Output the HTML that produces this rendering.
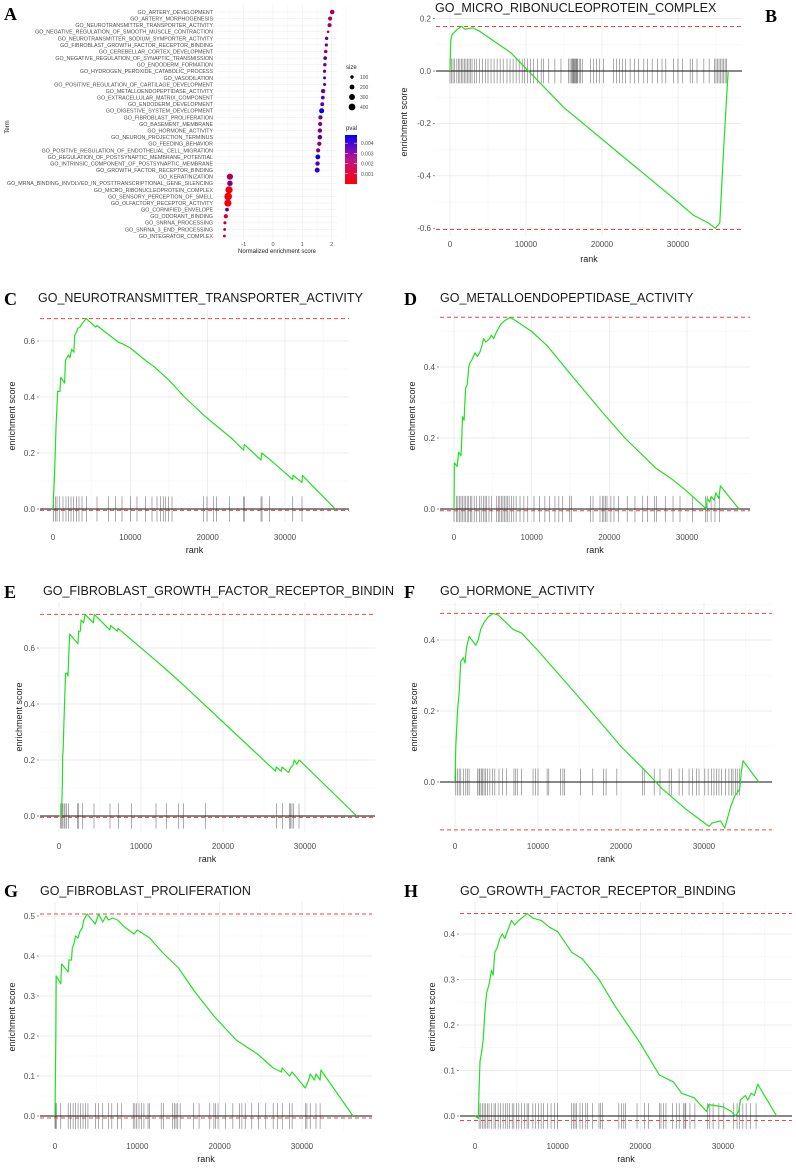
<!DOCTYPE html>
<html><head><meta charset="utf-8"><style>
html,body{margin:0;padding:0;background:#fff;}
svg{display:block;font-family:"Liberation Sans",sans-serif;}
</style></head><body>
<svg id="fig" width="796" height="1171" viewBox="0 0 796 1171" xmlns="http://www.w3.org/2000/svg"></svg>
<script>
// ---------- Panel A data ----------
const aTerms = ["GO_ARTERY_DEVELOPMENT","GO_ARTERY_MORPHOGENESIS","GO_NEUROTRANSMITTER_TRANSPORTER_ACTIVITY","GO_NEGATIVE_REGULATION_OF_SMOOTH_MUSCLE_CONTRACTION","GO_NEUROTRANSMITTER_SODIUM_SYMPORTER_ACTIVITY","GO_FIBROBLAST_GROWTH_FACTOR_RECEPTOR_BINDING","GO_CEREBELLAR_CORTEX_DEVELOPMENT","GO_NEGATIVE_REGULATION_OF_SYNAPTIC_TRANSMISSION","GO_ENDODERM_FORMATION","GO_HYDROGEN_PEROXIDE_CATABOLIC_PROCESS","GO_VASODILATION","GO_POSITIVE_REGULATION_OF_CARTILAGE_DEVELOPMENT","GO_METALLOENDOPEPTIDASE_ACTIVITY","GO_EXTRACELLULAR_MATRIX_COMPONENT","GO_ENDODERM_DEVELOPMENT","GO_DIGESTIVE_SYSTEM_DEVELOPMENT","GO_FIBROBLAST_PROLIFERATION","GO_BASEMENT_MEMBRANE","GO_HORMONE_ACTIVITY","GO_NEURON_PROJECTION_TERMINUS","GO_FEEDING_BEHAVIOR","GO_POSITIVE_REGULATION_OF_ENDOTHELIAL_CELL_MIGRATION","GO_REGULATION_OF_POSTSYNAPTIC_MEMBRANE_POTENTIAL","GO_INTRINSIC_COMPONENT_OF_POSTSYNAPTIC_MEMBRANE","GO_GROWTH_FACTOR_RECEPTOR_BINDING","GO_KERATINIZATION","GO_MRNA_BINDING_INVOLVED_IN_POSTTRANSCRIPTIONAL_GENE_SILENCING","GO_MICRO_RIBONUCLEOPROTEIN_COMPLEX","GO_SENSORY_PERCEPTION_OF_SMELL","GO_OLFACTORY_RECEPTOR_ACTIVITY","GO_CORNIFIED_ENVELOPE","GO_ODORANT_BINDING","GO_SNRNA_PROCESSING","GO_SNRNA_3_END_PROCESSING","GO_INTEGRATOR_COMPLEX"];
const aNes = [2.02,1.95,1.93,1.88,1.83,1.82,1.80,1.78,1.77,1.76,1.76,1.76,1.71,1.70,1.68,1.66,1.62,1.61,1.60,1.60,1.58,1.54,1.53,1.52,1.51,-1.47,-1.47,-1.50,-1.53,-1.54,-1.57,-1.61,-1.64,-1.65,-1.66];
const aSize = [180,150,140,60,100,90,110,120,100,90,80,80,170,120,130,220,160,150,170,180,160,150,200,170,210,330,260,450,500,450,120,150,80,70,70];
const aPval = [0.0015,0.0015,0.0018,0.0015,0.0025,0.0028,0.002,0.003,0.003,0.003,0.0035,0.0035,0.0025,0.003,0.003,0.0047,0.0025,0.0022,0.0025,0.003,0.002,0.0022,0.0047,0.003,0.004,0.0015,0.0025,0.0002,0.0002,0.0002,0.003,0.0008,0.0012,0.0012,0.0012];
const aXTicks = [-1,0,1,2];
const aSizeLegend = [100,200,300,400];
const aPvalLegend = [0.004,0.003,0.002,0.001];

// ---------- GSEA data ----------
const curveB = [[0,0],[100,0.12],[300,0.14],[1000,0.16],[1500,0.17],[2000,0.16],[3000,0.165],[4000,0.15],[6000,0.11],[8000,0.07],[10000,0.01],[15000,-0.14],[20000,-0.26],[25000,-0.38],[30000,-0.5],[32000,-0.55],[34000,-0.58],[34900,-0.6],[35500,-0.58],[36000,-0.3],[36500,-0.05],[36600,0]];
const hitsB = [0,200,400,600,900,1100,1300,1500,1700,1900,2100,2300,2500,2700,2900,3200,3500,3900,4300,4700,5000,5400,5800,6200,6600,7000,7500,7900,8300,8700,9100,9500,9800,10200,10600,11000,11500,12000,12300,13000,13800,14600,15600,15800,16000,16100,16200,16300,16400,16500,16600,16700,16800,17000,17200,17400,18500,18900,19300,19700,20200,21500,21900,22300,22700,23100,23700,24300,24800,25500,26000,26600,27300,27900,28400,29400,30000,30600,31600,31900,32500,33400,34100,34800,35000,35200,35400,35600,35800,36000,36200,36400];
const curveC = [[0,0],[200,0.12],[300,0.21],[400,0.3],[500,0.36],[600,0.42],[900,0.42],[1000,0.47],[1500,0.45],[1600,0.53],[2000,0.55],[2200,0.54],[2400,0.57],[2700,0.56],[2800,0.62],[3000,0.63],[3200,0.645],[3500,0.65],[3700,0.66],[4000,0.67],[4300,0.68],[5500,0.65],[5700,0.655],[7300,0.62],[8500,0.595],[9000,0.59],[10000,0.575],[12000,0.53],[13000,0.51],[15000,0.46],[17000,0.40],[19500,0.335],[21000,0.30],[23000,0.255],[24650,0.21],[24750,0.23],[26900,0.175],[27000,0.20],[27900,0.18],[31000,0.105],[31050,0.12],[32200,0.095],[32250,0.12],[36500,0]];
const hitsC = [90,300,520,860,1290,1680,2030,2330,2670,3020,3360,3750,4310,5690,7200,8060,8920,10000,10860,11940,12800,13450,13880,14310,14530,14960,15390,19480,19910,20780,21120,22840,24660,24740,26900,27030,28020,31000,32200];
const curveD = [[0,0],[50,0.13],[400,0.12],[600,0.16],[900,0.15],[1000,0.2],[1100,0.26],[1300,0.25],[1400,0.3],[1500,0.34],[1700,0.35],[1900,0.4],[2000,0.41],[2300,0.42],[2500,0.43],[2700,0.44],[3000,0.43],[3300,0.44],[3600,0.46],[3800,0.48],[4100,0.47],[4600,0.48],[4800,0.49],[5100,0.48],[5500,0.5],[6000,0.52],[6500,0.53],[7200,0.54],[8000,0.53],[9000,0.515],[10000,0.5],[12000,0.46],[15000,0.38],[19000,0.275],[22000,0.2],[26000,0.115],[28000,0.085],[30000,0.05],[32500,0],[32600,0.03],[32900,0.02],[33100,0.035],[33500,0.025],[33700,0.045],[34100,0.03],[34300,0.065],[36700,0]];
const hitsD = [0,300,500,700,900,1100,1300,1500,1700,1900,2100,2300,2600,2900,3300,3500,3800,4000,4200,4500,4800,5500,5700,5900,6100,6300,6500,6700,6900,7100,7400,7700,8000,8500,9000,9500,10300,11000,11700,12300,13000,13500,14000,14900,15100,17600,17900,18800,19100,19300,19500,19700,20200,20600,21200,22300,23300,24300,24900,25800,26100,27200,28200,29100,30700,32400,32600,33100,33600,34200];
const curveE = [[0,0],[300,0],[400,0.11],[450,0.22],[500,0.23],[600,0.33],[700,0.42],[800,0.51],[1000,0.51],[1100,0.5],[1200,0.58],[1300,0.65],[2300,0.615],[2400,0.66],[2600,0.66],[2700,0.70],[3000,0.69],[3200,0.72],[4200,0.69],[4300,0.72],[6200,0.665],[6300,0.68],[7100,0.66],[7200,0.67],[8800,0.63],[11800,0.555],[13000,0.525],[15100,0.47],[26400,0.16],[26500,0.175],[27100,0.16],[27200,0.175],[28000,0.155],[28200,0.17],[28500,0.18],[28700,0.2],[29000,0.185],[29300,0.2],[36300,0]];
const hitsE = [200,330,450,610,730,930,1140,2240,2400,2890,4270,6220,7240,8860,11830,13130,14550,15160,17890,26540,27280,28090,28250,28410,28580,29270];
const curveF = [[0,0],[100,0.1],[300,0.2],[500,0.25],[700,0.34],[1000,0.35],[1200,0.335],[1400,0.38],[1700,0.41],[2500,0.385],[2800,0.4],[3100,0.43],[3500,0.45],[4000,0.465],[4600,0.475],[5200,0.47],[7000,0.43],[8000,0.42],[10000,0.37],[13000,0.29],[16000,0.21],[20000,0.1],[23000,0.03],[25000,-0.02],[28000,-0.08],[30600,-0.125],[31000,-0.115],[32000,-0.11],[32500,-0.13],[33200,-0.07],[33700,-0.04],[34300,-0.02],[34500,0.03],[34700,0.06],[36600,0]];
const hitsF = [100,300,500,700,1000,1300,1500,1700,2700,2900,3000,3200,3300,3500,3700,3900,4200,4500,4800,5300,5700,6200,7100,7300,7500,8000,9400,9700,10000,11100,11300,12700,13000,13200,15100,16600,17900,18200,19500,22600,22800,24000,24700,25800,26100,27000,27400,28200,28600,29100,29400,30100,30500,30900,31200,31500,31800,32100,32600,33000,33300,33500,33800,34000,34300];
const curveG = [[0,0],[100,0.19],[150,0.35],[700,0.33],[800,0.38],[1600,0.36],[1700,0.39],[2000,0.39],[2100,0.42],[2300,0.43],[2500,0.45],[2800,0.445],[3000,0.46],[3300,0.47],[3500,0.49],[3900,0.505],[4900,0.48],[5300,0.505],[5800,0.485],[6200,0.5],[6500,0.49],[7000,0.495],[7600,0.49],[8300,0.475],[9600,0.455],[10000,0.465],[11500,0.445],[13000,0.41],[15000,0.37],[17000,0.31],[19300,0.25],[22000,0.19],[24600,0.155],[26500,0.12],[27500,0.11],[27600,0.12],[28500,0.10],[28800,0.11],[30400,0.07],[30800,0.09],[31000,0.105],[31500,0.09],[31700,0.105],[32200,0.09],[32300,0.115],[36200,0]];
const hitsG = [0,100,150,700,1600,1900,2200,2500,2800,3100,3400,3700,4000,4900,5300,5800,6500,6900,7600,8100,9500,9700,9900,10200,10500,10800,11300,11500,12900,13200,14300,14500,14700,14900,15200,16800,17500,18800,19300,19500,19800,20700,21600,22400,22700,23100,23900,24700,25600,26500,27000,27600,28500,28800,30400,30600,31000,31700,32200];
const curveH = [[0,0],[400,-0.005],[500,0.06],[600,0.12],[800,0.14],[1000,0.17],[1200,0.23],[1400,0.27],[1700,0.29],[2000,0.32],[2200,0.31],[2400,0.36],[2700,0.37],[3000,0.39],[3300,0.40],[3600,0.39],[4000,0.41],[4400,0.43],[4800,0.42],[5300,0.43],[6000,0.44],[6300,0.445],[7000,0.435],[8000,0.43],[9000,0.415],[10000,0.405],[11700,0.36],[13000,0.345],[15000,0.3],[17000,0.24],[20000,0.16],[22300,0.09],[24000,0.075],[25000,0.05],[26500,0.04],[28000,0.01],[28300,0.025],[30000,0.02],[31000,0.01],[31500,0],[31900,0.01],[32100,0.035],[32700,0.045],[33000,0.035],[33400,0.05],[33800,0.045],[34200,0.07],[36500,0]];
const hitsH = [500,700,900,1100,1300,1500,1700,2000,2300,2500,2800,3100,3400,3700,3900,4200,4500,4700,5000,5300,5600,6000,6300,6500,7000,7300,7700,8000,8300,8800,9200,9600,10000,11700,11900,12100,12300,12700,13000,13400,13600,14200,15000,15200,15400,17400,17700,18000,18200,19600,20500,21000,22300,22500,22800,23100,23900,24400,24700,25200,25400,25500,26000,26600,28100,28400,28800,29500,30100,31300,31700,32000,32400,32800,33300,34000];
const rankTicks = [0,10000,20000,30000];
const yTicksB = [0.2,0,-0.2,-0.4,-0.6];
const yTicksC = [0,0.2,0.4,0.6];
const yTicksD = [0,0.2,0.4];
const yTicksE = [0,0.2,0.4,0.6];
const yTicksF = [0,0.2,0.4];
const yTicksG = [0,0.1,0.2,0.3,0.4,0.5];
const yTicksH = [0,0.1,0.2,0.3,0.4];
const titles = ["GO_MICRO_RIBONUCLEOPROTEIN_COMPLEX","GO_NEUROTRANSMITTER_TRANSPORTER_ACTIVITY","GO_METALLOENDOPEPTIDASE_ACTIVITY","GO_FIBROBLAST_GROWTH_FACTOR_RECEPTOR_BINDIN","GO_HORMONE_ACTIVITY","GO_FIBROBLAST_PROLIFERATION","GO_GROWTH_FACTOR_RECEPTOR_BINDING"];

const NS = "http://www.w3.org/2000/svg";
const svg = document.getElementById('fig');
function mk(tag, attrs, parent, text){
  const e = document.createElementNS(NS, tag);
  for (const k in attrs) e.setAttribute(k, attrs[k]);
  if (text !== undefined) e.textContent = text;
  (parent || svg).appendChild(e);
  return e;
}
function fmt(v, dec){ return (Math.abs(v) < 1e-9 ? 0 : v).toFixed(dec); }

// ---------- Panel A ----------
(function(){
  const g = mk('g', {});
  
  
  const L = 217, R = 337, T = 4, B = 240, x0 = 273, ux = 29.3, y0 = 12, dy = (236 - 12) / 34;
  const px = v => x0 + v * ux;
  const py = i => y0 + i * dy;
  aXTicks.forEach(t => { mk('line', {x1:px(t),x2:px(t),y1:T,y2:B,stroke:'#ebebeb','stroke-width':0.6}, g); mk('line', {x1:px(t-0.5),x2:px(t-0.5),y1:T,y2:B,stroke:'#f4f4f4','stroke-width':0.4}, g); });
  mk('line', {x1:px(2.5),x2:px(2.5),y1:T,y2:B,stroke:'#f4f4f4','stroke-width':0.4}, g);
  aTerms.forEach((t,i) => {
    mk('line', {x1:L,x2:R,y1:py(i),y2:py(i),stroke:'#ebebeb','stroke-width':0.5}, g);
    const lab = mk('text', {x:L-4,y:py(i)+1.9,'font-size':5.3,fill:'#4d4d4d','text-anchor':'end'}, g, t);
    
    
  });
  const col = p => { const t = Math.min(1, p / 0.0048); return `rgb(${Math.round(255*(1-t))},0,${Math.round(255*t)})`; };
  aTerms.forEach((t,i) => {
    const c = mk('circle', {cx:px(aNes[i]),cy:py(i),r:0.17*Math.sqrt(aSize[i]),fill:col(aPval[i])}, g);
    
    
  });
  aXTicks.forEach(t => mk('text', {x:px(t),y:246,'font-size':5.5,fill:'#4d4d4d','text-anchor':'middle'}, g, String(t)));
  const xt = mk('text', {x:277,y:253,'font-size':6,fill:'#222','text-anchor':'middle'}, g, 'Normalized enrichment score');
  
  
  const yt = mk('text', {x:9,y:127,'font-size':6,fill:'#222','text-anchor':'middle',transform:'rotate(-90 9 127)'}, g, 'Term');
  
  
  // size legend
  const sl = mk('g', {}, g);
  
  
  mk('text', {x:346,y:69,'font-size':6,fill:'#222'}, sl, 'size');
  aSizeLegend.forEach((s,i) => {
    mk('circle', {cx:352,cy:77+i*10,r:0.17*Math.sqrt(s),fill:'#000'}, sl);
    mk('text', {x:360,y:79+i*10,'font-size':5,fill:'#4d4d4d'}, sl, String(s));
  });
  // pval legend
  const pl = mk('g', {}, g);
  
  
  mk('text', {x:346,y:130,'font-size':6,fill:'#222'}, pl, 'pval');
  const defs = mk('defs', {}, pl);
  const lg = mk('linearGradient', {id:'pg',x1:0,y1:1,x2:0,y2:0}, defs);
  mk('stop', {offset:'0%','stop-color':'#ff0000'}, lg);
  mk('stop', {offset:'50%','stop-color':'#c0158a'}, lg);
  mk('stop', {offset:'100%','stop-color':'#0000ff'}, lg);
  mk('rect', {x:345,y:135,width:12,height:49,fill:'url(#pg)'}, pl);
  aPvalLegend.forEach(p => { const y = 184 - p / 0.0048 * 49; mk('text', {x:361,y:y+2,'font-size':5,fill:'#4d4d4d'}, pl, p.toFixed(3)); mk('line',{x1:345,x2:348,y1:y,y2:y,stroke:'#fff','stroke-width':0.5},pl); mk('line',{x1:354,x2:357,y1:y,y2:y,stroke:'#fff','stroke-width':0.5},pl); });
})();

// ---------- GSEA panels ----------
const panels = [
 {id:'b',L:436,R:742,T:8,B:236,x0:450,x30:678,y0:71,ppu:262,hh:0.047,ylab:407,xlab:247,rlab:262,tx:435,ty:12,curve:curveB,hits:hitsB,yt:yTicksB,dec:1,lx:765,ly:22,letter:'B'},
 {id:'c',L:40,R:349,T:310,B:522,x0:53,x30:285,y0:509,ppu:280,hh:0.045,ylab:15,xlab:540,rlab:553,tx:38,ty:302,curve:curveC,hits:hitsC,yt:yTicksC,dec:1,lx:4,ly:305,letter:'C'},
 {id:'d',L:440,R:750,T:310,B:522,x0:454,x30:687,y0:509,ppu:355,hh:0.037,ylab:415,xlab:540,rlab:553,tx:440,ty:302,curve:curveD,hits:hitsD,yt:yTicksD,dec:1,lx:404,ly:305,letter:'D'},
 {id:'e',L:40,R:375,T:602,B:832,x0:59,x30:305,y0:816,ppu:280,hh:0.045,ylab:22,xlab:849,rlab:862,tx:43,ty:595,curve:curveE,hits:hitsE,yt:yTicksE,dec:1,lx:4,ly:598,letter:'E'},
 {id:'f',L:440,R:772,T:602,B:832,x0:455,x30:704,y0:782,ppu:355,hh:0.038,ylab:417,xlab:849,rlab:862,tx:440,ty:595,curve:curveF,hits:hitsF,yt:yTicksF,dec:1,lx:404,ly:598,letter:'F'},
 {id:'g',L:40,R:372,T:902,B:1132,x0:55,x30:302,y0:1116,ppu:400,hh:0.032,ylab:15,xlab:1149,rlab:1162,tx:40,ty:895,curve:curveG,hits:hitsG,yt:yTicksG,dec:1,lx:4,ly:897,letter:'G'},
 {id:'h',L:460,R:792,T:902,B:1132,x0:475,x30:723,y0:1116,ppu:455,hh:0.028,ylab:435,xlab:1149,rlab:1162,tx:460,ty:895,curve:curveH,hits:hitsH,yt:yTicksH,dec:1,lx:404,ly:897,letter:'H'}
];
panels.forEach((c, idx) => {
  const g = mk('g', {});
  
  
  const px = r => c.x0 + r * (c.x30 - c.x0) / 30000;
  const py = v => c.y0 - v * c.ppu;
  const step = c.yt.length > 1 ? Math.abs(c.yt[1] - c.yt[0]) : 0.2;
  // minor grid
  rankTicks.forEach(t => { const xm = px(t + 5000); if (xm < c.R) mk('line', {x1:xm,x2:xm,y1:c.T,y2:c.B,stroke:'#f3f3f3','stroke-width':0.5}, g); });
  c.yt.forEach(t => { const ym = py(t + step/2); if (ym > c.T) mk('line', {x1:c.L,x2:c.R,y1:ym,y2:ym,stroke:'#f3f3f3','stroke-width':0.5}, g); });
  // major grid
  rankTicks.forEach(t => mk('line', {x1:px(t),x2:px(t),y1:c.T,y2:c.B,stroke:'#e6e6e6','stroke-width':0.7}, g));
  c.yt.forEach(t => mk('line', {x1:c.L,x2:c.R,y1:py(t),y2:py(t),stroke:'#e6e6e6','stroke-width':0.7}, g));
  // hits
  c.hits.forEach(h => {
    const l = mk('line', {x1:px(h),x2:px(h),y1:py(c.hh),y2:py(-c.hh),stroke:'#000','stroke-opacity':0.55,'stroke-width':0.6}, g);
    
    
  });
  // zero line
  mk('line', {x1:c.L,x2:c.R,y1:py(0),y2:py(0),stroke:'#111','stroke-width':1}, g);
  // dashed max/min
  let mx = -1e9, mn = 1e9;
  c.curve.forEach(p => { mx = Math.max(mx, p[1]); mn = Math.min(mn, p[1]); });
  [mx, mn - 0.005].forEach(v => {
    const d = mk('line', {x1:c.L,x2:c.R,y1:py(v),y2:py(v),stroke:'#e8474a','stroke-width':1,'stroke-dasharray':'4,3'}, g);
    
    
  });
  // curve
  const pl = mk('polyline', {points:c.curve.map(p => px(p[0]).toFixed(1)+','+py(p[1]).toFixed(1)).join(' '),fill:'none',stroke:'#22e022','stroke-width':1.2,'stroke-linejoin':'round'}, g);
  
  
  // y ticks
  c.yt.forEach(t => {
    mk('line', {x1:c.L-3,x2:c.L-1,y1:py(t),y2:py(t),stroke:'#4d4d4d','stroke-width':0.6}, g);
    mk('text', {x:c.L-5,y:py(t)+2.8,'font-size':8,fill:'#4d4d4d','text-anchor':'end'}, g, fmt(t, c.dec));
  });
  rankTicks.forEach(t => mk('text', {x:px(t),y:c.xlab,'font-size':8,fill:'#4d4d4d','text-anchor':'middle'}, g, String(t)));
  const rl = mk('text', {x:(c.L+c.R)/2,y:c.rlab,'font-size':9,fill:'#222','text-anchor':'middle'}, g, 'rank');
  
  
  const yl = mk('text', {x:c.ylab,y:(c.T+c.B)/2,'font-size':9,fill:'#222','text-anchor':'middle',transform:`rotate(-90 ${c.ylab} ${(c.T+c.B)/2})`}, g, 'enrichment score');
  
  
  const ti = mk('text', {x:c.tx,y:c.ty,'font-size':12.5,fill:'#1a1a1a'}, g, titles[idx]);
  
  
});
// panel letters
const letters = [['A',4,20]].concat(panels.map(c => [c.letter, c.lx, c.ly]));
letters.forEach(l => {
  const t = mk('text', {x:l[1],y:l[2],'font-size':18,'font-weight':'bold','font-family':'"Liberation Serif",serif',fill:'#000'}, svg, l[0]);
  
  
});
</script>
</body></html>
